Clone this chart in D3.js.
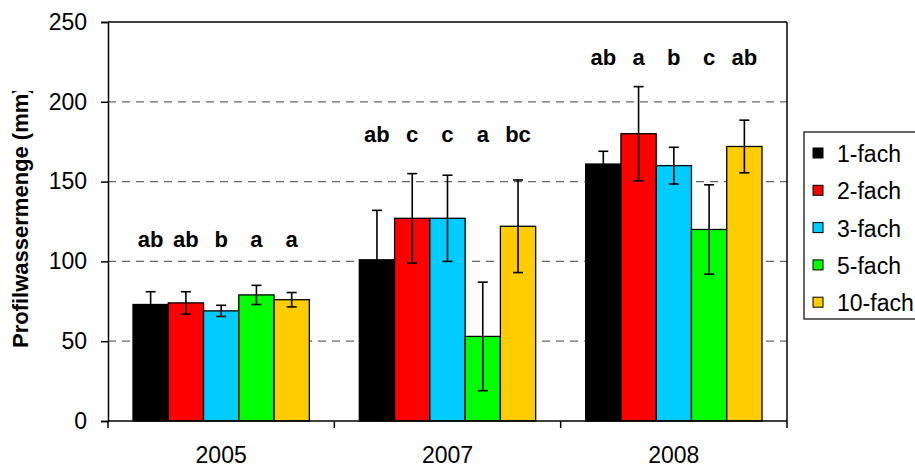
<!DOCTYPE html>
<html>
<head>
<meta charset="utf-8">
<script src="https://cdn.jsdelivr.net/npm/d3@7"></script>
<style>
	body { margin: 0; background: #fff; }
	svg { font-family: "Liberation Sans", Arial, sans-serif; }
</style>
</head>
<body>
<svg id="chart" width="915" height="468"></svg>
<script>
//data
var years = ["2005", "2007", "2008"];
var series = ["1-fach", "2-fach", "3-fach", "5-fach", "10-fach"];
var colors = ["#000000", "#ff0000", "#00ccff", "#00ff00", "#ffcc00"];
var means = [
	[73, 74, 69, 79, 76],
	[101, 127, 127, 53, 122],
	[161, 180, 160, 120, 172]
];
var errors = [
	[8, 7, 3.5, 6, 4.5],
	[31, 28, 27, 34, 29],
	[8, 29.5, 11.5, 28, 16.5]
];
var letters = [
	["ab", "ab", "b", "a", "a"],
	["ab", "c", "c", "a", "bc"],
	["ab", "a", "b", "c", "ab"]
];
var letterLevel = [109, 175, 223];
var yTicks = [0, 50, 100, 150, 200, 250];

var svg = d3.select("#chart");
var margin = {top: 22, left: 108, right: 128, bottom: 47};
var width = 915 - margin.left - margin.right;
var height = 468 - margin.top - margin.bottom;

var g = svg.append("g").attr("transform", "translate(" + margin.left + "," + margin.top + ")");

var x = d3.scaleBand().domain(years).range([0, width]).paddingInner(0).paddingOuter(0);
var groupPad = 25;
var xs = d3.scaleBand().domain(series).range([groupPad, x.bandwidth() - groupPad]);
var y = d3.scaleLinear().domain([0, 250]).range([height, 0]);

//grid lines
g.selectAll(".grid").data(yTicks.filter(function(d) { return d > 0 && d < 250; }))
	.enter().append("line")
	.attr("x1", 0).attr("x2", width)
	.attr("y1", function(d) { return y(d); }).attr("y2", function(d) { return y(d); })
	.attr("stroke", "#666").attr("stroke-width", 1.3).attr("stroke-dasharray", "8,6");

//bars
var groups = g.selectAll(".grp").data(years).enter().append("g")
	.attr("transform", function(d) { return "translate(" + x(d) + ",0)"; });

groups.each(function(yr, i) {
	var gg = d3.select(this);
	var rows = series.map(function(s, j) {
		return {s: s, v: means[i][j], e: errors[i][j], c: colors[j], l: letters[i][j]};
	});
	gg.selectAll("rect").data(rows).enter().append("rect")
		.attr("x", function(d) { return xs(d.s); })
		.attr("width", xs.bandwidth())
		.attr("y", function(d) { return y(d.v); })
		.attr("height", function(d) { return height - y(d.v); })
		.attr("fill", function(d) { return d.c; })
		.attr("stroke", "#000").attr("stroke-width", 1.3);

	var eb = gg.selectAll(".eb").data(rows).enter().append("g")
		.attr("stroke", "#000").attr("stroke-width", 1.6);
	var cx = function(d) { return xs(d.s) + xs.bandwidth() / 2; };
	eb.append("line")
		.attr("x1", cx).attr("x2", cx)
		.attr("y1", function(d) { return y(d.v - d.e); })
		.attr("y2", function(d) { return y(d.v + d.e); });
	eb.append("line")
		.attr("x1", function(d) { return cx(d) - 5; }).attr("x2", function(d) { return cx(d) + 5; })
		.attr("y1", function(d) { return y(d.v + d.e); }).attr("y2", function(d) { return y(d.v + d.e); });
	eb.append("line")
		.attr("x1", function(d) { return cx(d) - 5; }).attr("x2", function(d) { return cx(d) + 5; })
		.attr("y1", function(d) { return y(d.v - d.e); }).attr("y2", function(d) { return y(d.v - d.e); });

	gg.selectAll(".lt").data(rows).enter().append("text")
		.attr("x", cx)
		.attr("y", y(letterLevel[i]))
		.attr("text-anchor", "middle")
		.attr("font-size", 22).attr("font-weight", "bold")
		.text(function(d) { return d.l; });
});

//frame top and right
g.append("line").attr("x1", 0).attr("x2", width).attr("y1", 0).attr("y2", 0).attr("stroke", "#000").attr("stroke-width", 1.5);
g.append("line").attr("x1", width).attr("x2", width).attr("y1", 0).attr("y2", height).attr("stroke", "#000").attr("stroke-width", 1.5);

//y axis
var yAxis = g.append("g").call(d3.axisLeft(y).tickValues(yTicks).tickSize(7).tickPadding(14));
yAxis.select(".domain").attr("stroke-width", 1.5);
yAxis.selectAll(".tick line").attr("stroke-width", 1.5);
yAxis.selectAll("text").attr("font-size", 23).attr("font-family", "Liberation Sans, Arial, sans-serif");

//x axis with ticks at band boundaries
var xAxis = g.append("g").attr("transform", "translate(0," + height + ")");
xAxis.append("line").attr("x1", 0).attr("x2", width).attr("stroke", "#000").attr("stroke-width", 1.5);
xAxis.selectAll(".tk").data(d3.range(years.length + 1)).enter().append("line")
	.attr("x1", function(d) { return d * x.step(); }).attr("x2", function(d) { return d * x.step(); })
	.attr("y1", 0).attr("y2", 7).attr("stroke", "#000").attr("stroke-width", 1.5);
xAxis.selectAll(".lb").data(years).enter().append("text")
	.attr("x", function(d) { return x(d) + x.bandwidth() / 2; })
	.attr("y", 42)
	.attr("text-anchor", "middle").attr("font-size", 23)
	.text(function(d) { return d; });

//y title, clipped at the top like the original
svg.append("clipPath").attr("id", "titleClip")
	.append("rect").attr("x", 0).attr("y", 91).attr("width", 60).attr("height", 377);
svg.append("g").attr("clip-path", "url(#titleClip)")
	.append("text")
	.attr("transform", "translate(28,348) rotate(-90)")
	.attr("font-size", 22).attr("font-weight", "bold")
	.text("Profilwassermenge (mm)");

//legend
var leg = svg.append("g").attr("transform", "translate(804,132)");
leg.append("rect").attr("width", 130).attr("height", 187).attr("fill", "#fff").attr("stroke", "#000").attr("stroke-width", 1.2);
var li = leg.selectAll(".li").data(series).enter().append("g")
	.attr("transform", function(d, i) { return "translate(0," + (21 + i * 37.3) + ")"; });
li.append("rect").attr("x", 9).attr("y", -5).attr("width", 10).attr("height", 10)
	.attr("fill", function(d, i) { return colors[i]; }).attr("stroke", "#000").attr("stroke-width", 1);
li.append("text").attr("x", 33).attr("y", 9).attr("font-size", 23).text(function(d) { return d; });
</script>
</body>
</html>
